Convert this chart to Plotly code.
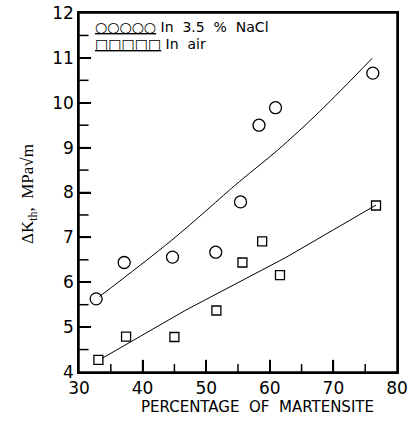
import plotly.graph_objects as go

# Data
nacl_x = [32.7, 37.1, 44.7, 51.5, 55.4, 58.3, 60.9, 76.2]
nacl_y = [5.63, 6.44, 6.56, 6.67, 7.79, 9.50, 9.89, 10.66]
air_x = [33.05, 37.4, 45.0, 51.6, 55.7, 58.8, 61.6, 76.7]
air_y = [4.27, 4.79, 4.78, 5.37, 6.44, 6.91, 6.16, 7.71]

nacl_fit_x = [33.2, 44.6, 55.2, 61.2, 67.8, 76.1]
nacl_fit_y = [5.68, 6.94, 8.24, 8.94, 9.80, 10.99]
air_fit_x = [33.7, 46.8, 62.5, 76.7]
air_fit_y = [4.31, 5.38, 6.55, 7.72]

x_ticks = [30, 40, 50, 60, 70, 80]
y_ticks = [4, 5, 6, 7, 8, 9, 10, 11, 12]
x_minor = [35, 45, 55, 65, 75]
y_minor = [4.5, 5.5, 6.5, 7.5, 8.5, 9.5, 10.5, 11.5]

ink = "black"
fig = go.Figure()
fig.add_trace(go.Scatter(x=nacl_fit_x, y=nacl_fit_y, mode="lines",
                         line=dict(color=ink, width=1), line_shape="spline"))
fig.add_trace(go.Scatter(x=air_fit_x, y=air_fit_y, mode="lines",
                         line=dict(color=ink, width=1)))
fig.add_trace(go.Scatter(x=nacl_x, y=nacl_y, mode="markers",
                         marker=dict(symbol="circle-open", size=12,
                                     color=ink, line=dict(width=1.3, color=ink))))
fig.add_trace(go.Scatter(x=air_x, y=air_y, mode="markers",
                         marker=dict(symbol="square-open", size=9,
                                     color=ink, line=dict(width=1.3, color=ink))))

tickfont = dict(family="DejaVu Sans", size=17, color=ink)
fig.update_xaxes(range=[30, 80], tickvals=x_ticks, ticks="inside", ticklen=12,
                 tickwidth=1.5, tickcolor=ink, showline=True, linecolor=ink,
                 linewidth=1.5, mirror=True, showgrid=False, zeroline=False,
                 automargin=False, tickfont=tickfont)
fig.update_yaxes(range=[4, 12], tickvals=y_ticks, ticks="inside", ticklen=12,
                 tickwidth=1.5, tickcolor=ink, showline=True, linecolor=ink,
                 linewidth=1.5, mirror=True, showgrid=False, zeroline=False,
                 automargin=False, tickfont=tickfont,
                 ticksuffix="\u00a0\u00a0\u00a0")

# Frame and inward tick marks, placed through the axes' own scales
tick_line = dict(color=ink, width=1.5)
shapes = [dict(type="rect", xref="paper", yref="paper", x0=0, x1=1, y0=0, y1=1,
               line=dict(color=ink, width=1.5), layer="above")]
shapes += [dict(type="line", xref="x", yref="y domain", x0=v, x1=v, y0=0, y1=0.034,
                line=tick_line, layer="above") for v in x_ticks[1:-1]]
shapes += [dict(type="line", xref="x", yref="y domain", x0=v, x1=v, y0=0, y1=0.022,
                line=tick_line, layer="above") for v in x_minor]
shapes += [dict(type="line", xref="x domain", yref="y", x0=0, x1=0.038, y0=v, y1=v,
                line=tick_line, layer="above") for v in y_ticks[1:-1]]
shapes += [dict(type="line", xref="x domain", yref="y", x0=0, x1=0.03, y0=v, y1=v,
                line=tick_line, layer="above") for v in y_minor]

fig.add_annotation(text="PERCENTAGE  OF  MARTENSITE", xref="paper", yref="paper",
                   x=0.56, y=-0.0975, xanchor="center", yanchor="middle",
                   showarrow=False, font=dict(family="DejaVu Sans", size=15, color=ink))
fig.add_annotation(text="\u0394K<sub>th</sub>,  MPa\u221am", xref="paper", yref="paper",
                   x=-0.155, y=0.495, xanchor="center", yanchor="middle", textangle=-90,
                   showarrow=False, font=dict(family="Liberation Serif", size=17, color=ink))

# Legend drawn as text
fig.add_annotation(text="<u>\u25cb\u25cb\u25cb\u25cb\u25cb</u> In  3.5  %  NaCl",
                   xref="paper", yref="paper", x=0.045, y=0.96, xanchor="left",
                   yanchor="middle", showarrow=False,
                   font=dict(family="DejaVu Sans", size=14, color=ink))
fig.add_annotation(text="<u>\u25a1\u25a1\u25a1\u25a1\u25a1</u> In  air",
                   xref="paper", yref="paper", x=0.045, y=0.915, xanchor="left",
                   yanchor="middle", showarrow=False,
                   font=dict(family="DejaVu Sans", size=14, color=ink))

fig.update_layout(width=410, height=423, showlegend=False, shapes=shapes,
                  margin=dict(l=79, r=13, t=13, b=51),
                  plot_bgcolor="white", paper_bgcolor="white")
fig.write_html("out.html", config={"displayModeBar": False},
               post_script="document.body.style.margin='0';")
